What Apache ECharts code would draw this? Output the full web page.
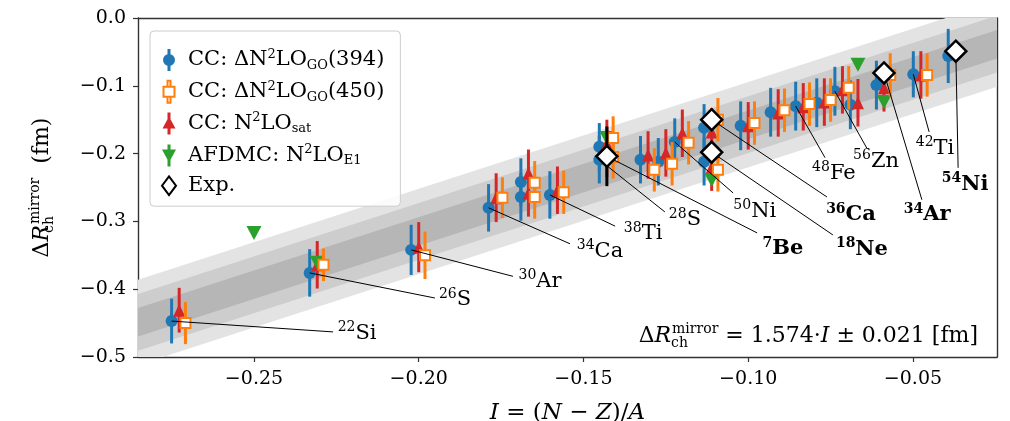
<!DOCTYPE html>
<html>
<head>
<meta charset="utf-8">
<script src="https://cdn.jsdelivr.net/npm/echarts@6/dist/echarts.min.js"></script>
<style>
    html, body { margin: 0; padding: 0; background: #fff; }
    #mirror-chart { width: 1010px; height: 421px; }
</style>
</head>
<body>
<div id="mirror-chart"></div>
<script>
// ------------------------------
// Data
// ------------------------------
// isospin asymmetry I = (N-Z)/A of every mirror pair computed with CC
var isoI = [-0.2727, -0.2308, -0.2000, -0.1765, -0.1667, -0.1667, -0.1579, -0.1429, -0.1429, -0.1304,
            -0.1250, -0.1200, -0.1111, -0.1111, -0.1000, -0.0909, -0.0833, -0.0769, -0.0714, -0.0667,
            -0.0588, -0.0476, -0.0370];

// CC: ΔN2LO_GO(394)
var go394Y   = [-0.447, -0.376, -0.342, -0.280, -0.242, -0.264, -0.261, -0.209, -0.190, -0.209,
                -0.212, -0.183, -0.162, -0.212, -0.159, -0.139, -0.130, -0.125, -0.108, -0.128,
                -0.099, -0.083, -0.056];
var go394Err = [0.033, 0.035, 0.037, 0.035, 0.035, 0.035, 0.035, 0.035, 0.035, 0.035,
                0.035, 0.035, 0.035, 0.035, 0.036, 0.036, 0.036, 0.036, 0.036, 0.036,
                0.036, 0.034, 0.040];

// CC: ΔN2LO_GO(450)
var go450Y   = [-0.450, -0.364, -0.350, -0.265, -0.243, -0.264, -0.257, -0.205, -0.177, -0.224,
                -0.215, -0.184, -0.150, -0.224, -0.155, -0.136, -0.127, -0.121, -0.103, null,
                -0.084, -0.084, null];
var go450Err = [0.031, 0.024, 0.035, 0.030, 0.032, 0.032, 0.032, 0.032, 0.032, 0.032,
                0.032, 0.032, 0.032, 0.032, 0.032, 0.032, 0.032, 0.032, 0.032, null,
                0.032, 0.032, null];

// CC: N2LO_sat
var satY   = [-0.431, -0.364, -0.338, -0.265, -0.229, -0.258, -0.254, -0.200, -0.185, -0.202,
              -0.199, -0.170, -0.168, -0.220, -0.159, -0.140, -0.131, -0.124, -0.106, -0.125,
              -0.103, -0.084, null];
var satErr = [0.033, 0.035, 0.037, 0.036, 0.035, 0.035, 0.035, 0.035, 0.035, 0.035,
              0.035, 0.035, 0.035, 0.035, 0.035, 0.035, 0.035, 0.035, 0.035, 0.035,
              0.035, 0.035, null];

// AFDMC: N2LO_E1
var afdmcI   = [-0.2500, -0.2308, -0.1429, -0.1111, -0.0667, -0.0588];
var afdmcY   = [-0.317, -0.361, -0.177, -0.239, -0.069, -0.124];
var afdmcErr = [0.006, 0.006, 0.006, 0.006, 0.006, 0.006];

// experiment (index into isoI)
var expOf  = [8, 12, 13, 20, 22];
var expY   = [-0.204, -0.150, -0.198, -0.081, -0.049];
var expErr = [0.044, 0.008, 0.008, 0.008, 0.008];

// fit  ΔR = 1.574 I  with 1, 2, 3 sigma bands
var fitSlope = 1.574;
var fitSigma = [0.063, 0.042, 0.021];

// nucleus labels
var labelIso  = [0, 1, 2, 3, 6, 7, 8, 11, 13, 12, 16, 18, 20, 21, 22];
var labelMass = ['22', '26', '30', '34', '38', '28', '7', '50', '18', '36', '48', '56', '34', '42', '54'];
var labelSym  = ['Si', 'S', 'Ar', 'Ca', 'Ti', 'S', 'Be', 'Ni', 'Ne', 'Ca', 'Fe', 'Zn', 'Ar', 'Ti', 'Ni'];

var xTicks = [-0.25, -0.20, -0.15, -0.10, -0.05];

// ------------------------------
// layout / styling
// ------------------------------
var xMin = -0.2852, xMax = -0.0245;
var FONT = '"DejaVu Serif", serif';
var C_BLUE = '#1f77b4', C_ORANGE = '#ff7f0e', C_GREEN = '#2ca02c', C_RED = '#d62728';
var bandColors = ['#e3e3e3', '#cdcdcd', '#b6b6b6'];
var dodge = { go394: -0.0023, sat: 0, go450: 0.0019, afdmc: 0, exp: 0 };

// where the label text sits (line end, text centre), in data units
var labelLayout = [
    [-0.2260, -0.463, -0.2187, -0.465],
    [-0.1951, -0.413, -0.1890, -0.415],
    [-0.1714, -0.381, -0.1632, -0.388],
    [-0.1541, -0.333, -0.1450, -0.344],
    [-0.1404, -0.307, -0.1319, -0.318],
    [-0.1253, -0.286, -0.1192, -0.297],
    [-0.0973, -0.317, -0.0895, -0.340],
    [-0.1046, -0.258, -0.0980, -0.285],
    [-0.0743, -0.320, -0.0655, -0.341],
    [-0.0761, -0.264, -0.0688, -0.290],
    [-0.0767, -0.206, -0.0740, -0.229],
    [-0.0640, -0.192, -0.0612, -0.211],
    [-0.0473, -0.268, -0.0457, -0.290],
    [-0.0451, -0.168, -0.0433, -0.192],
    [-0.0363, -0.221, -0.0342, -0.245]
];

function minus(v, d) {
    var s = Math.abs(v).toFixed(d);
    return (v < -1e-9 ? '\u2212' : '') + s;
}

function pointData(xs, ys, errs, dx) {
    var out = [];
    for (var i = 0; i < xs.length; i++) {
        if (ys[i] == null) continue;
        out.push([xs[i] + dx, ys[i], errs[i]]);
    }
    return out;
}

function errorBars(name, data, color, z) {
    return {
        type: 'custom', name: name, z: z, silent: true, clip: true,
        data: data,
        encode: { x: 0, y: 1 },
        renderItem: function (params, api) {
            var x = api.value(0), y = api.value(1), e = api.value(2);
            var p1 = api.coord([x, y + e]);
            var p2 = api.coord([x, y - e]);
            return {
                type: 'line',
                shape: { x1: p1[0], y1: p1[1], x2: p2[0], y2: p2[1] },
                style: { stroke: color, lineWidth: 3 }
            };
        }
    };
}

var go394Pts = pointData(isoI, go394Y, go394Err, dodge.go394);
var go450Pts = pointData(isoI, go450Y, go450Err, dodge.go450);
var satPts   = pointData(isoI, satY, satErr, dodge.sat);
var afdmcPts = pointData(afdmcI, afdmcY, afdmcErr, dodge.afdmc);
var expPts   = pointData(expOf.map(function (k) { return isoI[k]; }), expY, expErr, dodge.exp);

// label anchor: experimental point if there is one, else the ΔN2LO_GO(394) point
var labelData = labelIso.map(function (k, j) {
    var e = expOf.indexOf(k);
    var ax = e >= 0 ? isoI[k] : isoI[k] + dodge.go394;
    var ay = e >= 0 ? expY[e] : go394Y[k];
    var L = labelLayout[j];
    return [ax, ay, L[0], L[1], L[2], L[3], j];
});

var legendRich = {
    f:   { fontFamily: FONT, fontSize: 21, lineHeight: 24, color: '#000', padding: [0, 0, 0, 7] },
    t:   { fontFamily: FONT, fontSize: 21, lineHeight: 24, color: '#000' },
    sup: { fontFamily: FONT, fontSize: 13, lineHeight: 13, verticalAlign: 'top', color: '#000' },
    sub: { fontFamily: FONT, fontSize: 13, lineHeight: 13, verticalAlign: 'bottom', color: '#000' }
};

var legendText = {
    'CC: ΔN2LO_GO(394)': '{f|CC: ΔN}{sup|2}{t|LO}{sub|GO}{t|(394)}',
    'CC: ΔN2LO_GO(450)': '{f|CC: ΔN}{sup|2}{t|LO}{sub|GO}{t|(450)}',
    'CC: N2LO_sat':      '{f|CC: N}{sup|2}{t|LO}{sub|sat}',
    'AFDMC: N2LO_E1':    '{f|AFDMC: N}{sup|2}{t|LO}{sub|E1}',
    'Exp.':              '{f|Exp.}'
};

var labelRich = {
    s:  { fontFamily: FONT, fontSize: 14, lineHeight: 14, verticalAlign: 'top', fill: '#000' },
    e:  { fontFamily: FONT, fontSize: 21, lineHeight: 25, fill: '#000' },
    sb: { fontFamily: FONT, fontSize: 14, lineHeight: 14, verticalAlign: 'top', fontWeight: 'bold', fill: '#000' },
    eb: { fontFamily: FONT, fontSize: 21, lineHeight: 25, fontWeight: 'bold', fill: '#000' }
};

var eChart = echarts.init(document.getElementById('mirror-chart'));

var option = {
    animation: false,
    backgroundColor: '#fff',
    grid: { left: 138, right: 13, top: 18, bottom: 64, outerBoundsMode: 'none', containLabel: false },
    xAxis: [{
        type: 'value', min: xMin, max: xMax,
        axisLine: { show: true, onZero: false, lineStyle: { color: '#333', width: 1.4 } },
        axisTick: { show: true, length: 5, customValues: xTicks, lineStyle: { color: '#333', width: 1.2 } },
        axisLabel: { customValues: xTicks, margin: 13, fontFamily: FONT, fontSize: 19, color: '#000',
                     formatter: function (v) { return minus(v, 2); } },
        splitLine: { show: false },
        name: '{i|I} = ({i|N} − {i|Z})/{i|A}',
        nameLocation: 'middle', nameGap: 45,
        nameTextStyle: {
            fontFamily: FONT, fontSize: 23, color: '#000',
            rich: {
                i: { fontFamily: FONT, fontSize: 23, fontStyle: 'italic', color: '#000' }
            }
        }
    }, {
        type: 'value', min: xMin, max: xMax, position: 'top',
        axisLine: { show: true, onZero: false, lineStyle: { color: '#333', width: 1.4 } },
        axisTick: { show: false }, axisLabel: { show: false }, splitLine: { show: false }
    }],
    yAxis: [{
        type: 'value', min: -0.5, max: 0, interval: 0.1,
        axisLine: { show: true, onZero: false, lineStyle: { color: '#333', width: 1.4 } },
        axisTick: { show: true, length: 5, lineStyle: { color: '#333', width: 1.2 } },
        axisLabel: { margin: 12, fontFamily: FONT, fontSize: 19, color: '#000',
                     formatter: function (v) { return minus(v, 1); } },
        splitLine: { show: false },
        name: '{t|Δ}{i|R}{sub|ch}{sup|mirror}{t|  (fm)}',
        nameLocation: 'middle', nameRotate: 90, nameGap: 82,
        nameTextStyle: {
            fontFamily: FONT, fontSize: 22, color: '#000',
            rich: {
                t:   { fontFamily: FONT, fontSize: 22, lineHeight: 28, color: '#000' },
                i:   { fontFamily: FONT, fontSize: 22, lineHeight: 28, fontStyle: 'italic', color: '#000' },
                sup: { fontFamily: FONT, fontSize: 14, lineHeight: 14, verticalAlign: 'top', color: '#000' },
                sub: { fontFamily: FONT, fontSize: 14, lineHeight: 14, verticalAlign: 'bottom', width: 1, color: '#000' }
            }
        }
    }, {
        type: 'value', min: -0.5, max: 0, position: 'right',
        axisLine: { show: true, onZero: false, lineStyle: { color: '#333', width: 1.4 } },
        axisTick: { show: false }, axisLabel: { show: false }, splitLine: { show: false }
    }],
    legend: {
        orient: 'vertical', left: 150, top: 31,
        padding: [17, 16, 10, 11], itemGap: 7.8, itemWidth: 14, itemHeight: 22,
        backgroundColor: 'rgba(255,255,255,0.85)', borderColor: '#cccccc', borderWidth: 1, borderRadius: 4,
        textStyle: { fontFamily: FONT, fontSize: 21, color: '#000', rich: legendRich },
        formatter: function (name) { return legendText[name]; },
        data: [
            { name: 'CC: ΔN2LO_GO(394)', icon: 'path://M5.5,0h3v22h-3z M1,11a6,6 0 1,1 12,0a6,6 0 1,1 -12,0z' },
            { name: 'CC: ΔN2LO_GO(450)', icon: 'path://M5.5,0h3v6h-3z M1.5,6h11v10h-11z M5.5,16h3v6h-3z' },
            { name: 'CC: N2LO_sat',      icon: 'path://M5.5,0h3v22h-3z M7,4L13.5,16H0.5z' },
            { name: 'AFDMC: N2LO_E1',    icon: 'path://M5.5,0h3v22h-3z M0,5H14L7,18z' },
            { name: 'Exp.',              icon: 'path://M7,3L13,11L7,19L1,11z' }
        ]
    },
    graphic: [{
        type: 'text', right: 32, top: 322, z: 100,
        style: {
            text: '{t|Δ}{i|R}{sub|ch}{sup|mirror}{t| = 1.574·}{i|I}{t| ± 0.021 [fm]}',
            rich: {
                t:   { fontFamily: FONT, fontSize: 22, lineHeight: 28, fill: '#000' },
                i:   { fontFamily: FONT, fontSize: 22, lineHeight: 28, fontStyle: 'italic', fill: '#000' },
                sup: { fontFamily: FONT, fontSize: 14, lineHeight: 14, verticalAlign: 'top', fill: '#000' },
                sub: { fontFamily: FONT, fontSize: 14, lineHeight: 14, verticalAlign: 'bottom', width: 1, fill: '#000' }
            }
        }
    }],
    series: [
        // sigma bands around the fit
        {
            type: 'custom', name: 'fit band', z: 1, silent: true, clip: true,
            data: fitSigma.map(function (s, k) { return [xMin, s, k]; }),
            encode: { x: 0 },
            renderItem: function (params, api) {
                var s = api.value(1), k = api.value(2);
                var pts = [
                    api.coord([xMin, fitSlope * xMin + s]),
                    api.coord([xMax, fitSlope * xMax + s]),
                    api.coord([xMax, fitSlope * xMax - s]),
                    api.coord([xMin, fitSlope * xMin - s])
                ];
                return { type: 'polygon', shape: { points: pts }, style: { fill: bandColors[k] } };
            }
        },
        errorBars('go394 err', go394Pts, C_BLUE, 3),
        {
            type: 'scatter', name: 'CC: ΔN2LO_GO(394)', z: 4, symbol: 'circle', symbolSize: 12,
            itemStyle: { color: C_BLUE, opacity: 1 }, data: go394Pts
        },
        errorBars('sat err', satPts, C_RED, 5),
        {
            type: 'scatter', name: 'CC: N2LO_sat', z: 6, symbol: 'triangle', symbolSize: [12, 13],
            itemStyle: { color: C_RED, opacity: 1 }, data: satPts
        },
        errorBars('afdmc err', afdmcPts, C_GREEN, 7),
        {
            type: 'scatter', name: 'AFDMC: N2LO_E1', z: 8, symbol: 'path://M0,0H10L5,9z', symbolSize: [15, 14],
            itemStyle: { color: C_GREEN, opacity: 1 }, data: afdmcPts
        },
        errorBars('go450 err', go450Pts, C_ORANGE, 9),
        {
            type: 'scatter', name: 'CC: ΔN2LO_GO(450)', z: 10, symbol: 'rect', symbolSize: 10,
            itemStyle: { color: '#fff', borderColor: C_ORANGE, borderWidth: 2, opacity: 1 }, data: go450Pts
        },
        // leader lines and nucleus names
        {
            type: 'custom', name: 'labels', z: 11, silent: true, clip: false,
            data: labelData,
            encode: { x: 0, y: 1 },
            renderItem: function (params, api) {
                var j = api.value(6);
                var a = api.coord([api.value(0), api.value(1)]);
                var e = api.coord([api.value(2), api.value(3)]);
                var t = api.coord([api.value(4), api.value(5)]);
                var bold = expOf.indexOf(labelIso[j]) >= 0;
                var txt = bold ? '{sb|' + labelMass[j] + '}{eb|' + labelSym[j] + '}'
                               : '{s|' + labelMass[j] + '}{e|' + labelSym[j] + '}';
                return {
                    type: 'group',
                    children: [{
                        type: 'line',
                        shape: { x1: a[0], y1: a[1], x2: e[0], y2: e[1] },
                        style: { stroke: '#000', lineWidth: 1 }
                    }, {
                        type: 'text', x: t[0], y: t[1],
                        style: { text: txt, rich: labelRich, align: 'center', verticalAlign: 'middle' }
                    }]
                };
            }
        },
        errorBars('exp err', expPts, '#000', 12),
        {
            type: 'scatter', name: 'Exp.', z: 13, symbol: 'diamond', symbolSize: [21, 21],
            itemStyle: { color: '#fff', borderColor: '#000', borderWidth: 2.5, opacity: 1 }, data: expPts
        }
    ]
};

eChart.setOption(option);
</script>
</body>
</html>
